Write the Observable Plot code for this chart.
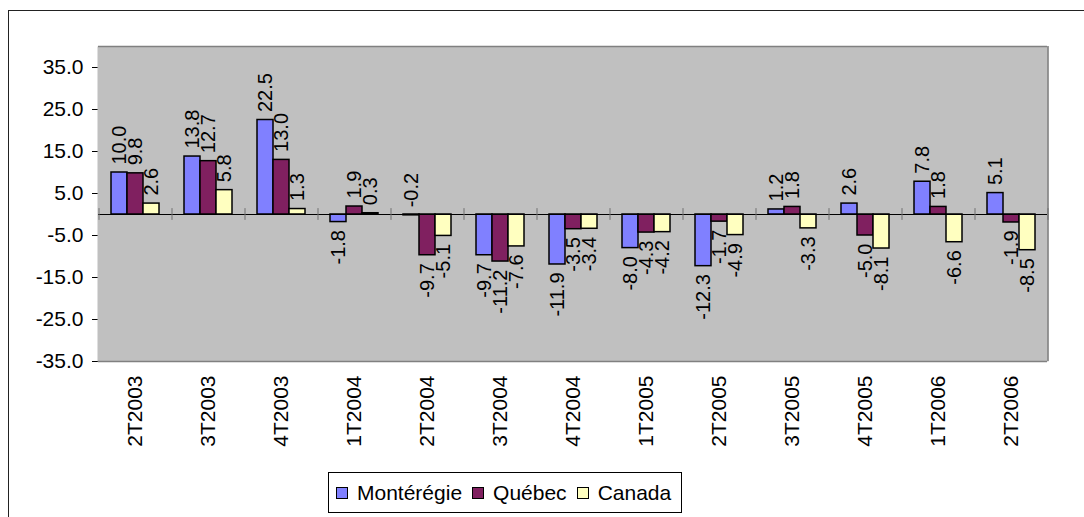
<!DOCTYPE html>
<html>
<head>
<meta charset="utf-8">
<script src="https://cdn.jsdelivr.net/npm/d3@7"></script>
<script src="https://cdn.jsdelivr.net/npm/@observablehq/plot@0.6"></script>
<style>
  html, body { margin: 0; padding: 0; background: #fff; overflow: hidden; }
  #wrap { position: relative; width: 1084px; height: 517px; font-family: "Liberation Sans", Arial, sans-serif; }
  #outer { position: absolute; left: 8px; top: 10px; width: 1200px; height: 600px; border: 1px solid #222; pointer-events: none; z-index: 2; }
  #chart { position: absolute; left: 0; top: 0; }
  #legend { position: absolute; left: 328px; top: 472px; width: 354px; height: 41px; box-sizing: border-box;
            border: 1px solid #000; display: flex; align-items: center; padding-left: 7px; font-size: 21px; color: #000; z-index: 3; background: #fff; }
  .item { display: flex; align-items: center; margin-right: 10px; }
  .sw { width: 10px; height: 10px; border: 1px solid #000; margin-right: 9px; }
</style>
</head>
<body>
<div id="wrap">
  <div id="outer"></div>
  <div id="chart"></div>
  <div id="legend"></div>
</div>
<script>
const categories = ["2T2003","3T2003","4T2003","1T2004","2T2004","3T2004","4T2004","1T2005","2T2005","3T2005","4T2005","1T2006","2T2006"];
const series = ["Montérégie","Québec","Canada"];
const monteregie = [10.0, 13.8, 22.5, -1.8, -0.2, -9.7, -11.9, -8.0, -12.3, 1.2, 2.6, 7.8, 5.1];
const quebec     = [9.8, 12.7, 13.0, 1.9, -9.7, -11.2, -3.5, -4.3, -1.7, 1.8, -5.0, 1.8, -1.9];
const canada     = [2.6, 5.8, 1.3, 0.3, -5.1, -7.6, -3.4, -4.2, -4.9, -3.3, -8.1, -6.6, -8.5];
const yTicks = [-35, -25, -15, -5, 5, 15, 25, 35];
const colors = ["#8080FF", "#802060", "#FFFFC0"];

const values = [monteregie, quebec, canada];
const data = [];
categories.forEach((c, i) => series.forEach((s, j) => data.push({cat: c, series: s, value: values[j][i]})));

const W = 1084, H = 460, mL = 98, mR = 37, mT = 46, mB = 99;
const facetStep = (W - mL - mR) / categories.length;
const pOuter = 0.78;
const innerStep = facetStep / (series.length + 2 * pOuter);
const edge = innerStep * (pOuter + 0.5);

const tickData = categories.map(c => ({cat: c, series: series[0]}));
const lastData = [{cat: categories[categories.length - 1], series: series[series.length - 1]}];

const above = data.filter(d => d.value > -1);
const below = data.filter(d => d.value <= -1);

const plot = Plot.plot({
  width: W, height: H,
  marginLeft: mL, marginRight: mR, marginTop: mT, marginBottom: mB,
  style: {fontFamily: "'Liberation Sans', Arial, sans-serif", fontSize: "21px", background: "transparent", color: "#000"},
  fx: {domain: categories, padding: 0, axis: "bottom", tickRotate: -90, tickSize: 0, tickPadding: 14, label: null},
  x: {domain: series, paddingInner: 0, paddingOuter: pOuter, axis: null},
  y: {domain: [-35, 40], ticks: yTicks, tickFormat: d => d.toFixed(1), tickSize: 6, tickPadding: 9, label: null, line: true},
  color: {domain: series, range: colors},
  marks: [
    Plot.frame({fill: "#c0c0c0", stroke: null, insetLeft: -1, insetRight: -1}),
    Plot.ruleY([40, -35], {stroke: "#808080", strokeWidth: 1.5}),
    Plot.ruleX(lastData, {fx: "cat", x: "series", dx: edge, y1: -35, y2: 40, stroke: "#808080", strokeWidth: 1.5}),
    Plot.barY(data, {fx: "cat", x: "series", y: "value", fill: "series", stroke: "#000", strokeWidth: 1.5}),
    Plot.ruleY([0], {stroke: "#000", strokeWidth: 1}),
    Plot.ruleX(tickData, {fx: "cat", x: "series", dx: -edge, y1: -1.4, y2: 1.4, stroke: "#707070", strokeWidth: 1}),
    Plot.ruleX(lastData, {fx: "cat", x: "series", dx: edge, y1: -1.4, y2: 1.4, stroke: "#707070", strokeWidth: 1}),
    Plot.text(above, {fx: "cat", x: "series", y: "value", text: d => d.value.toFixed(1), rotate: -90, textAnchor: "start", dy: -8, fontSize: 20, fill: "#000"}),
    Plot.text(below, {fx: "cat", x: "series", y: "value", text: d => d.value.toFixed(1), rotate: -90, textAnchor: "end", dy: 8, fontSize: 20, fill: "#000"})
  ]
});
document.getElementById("chart").appendChild(plot);

const legend = document.getElementById("legend");
series.forEach((s, j) => {
  const it = document.createElement("div");
  it.className = "item";
  const sw = document.createElement("div");
  sw.className = "sw";
  sw.style.background = colors[j];
  const t = document.createElement("span");
  t.textContent = s;
  it.appendChild(sw); it.appendChild(t);
  legend.appendChild(it);
});
</script>
</body>
</html>
